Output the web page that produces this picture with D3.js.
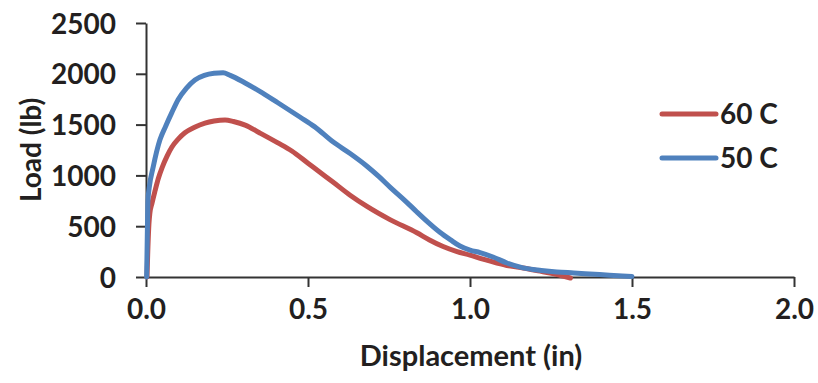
<!DOCTYPE html>
<html>
<head>
<meta charset="utf-8">
<script src="https://cdn.jsdelivr.net/npm/d3@7"></script>
<style>
	body { margin: 0; background: #fff; }
	svg text { font-family: Lato, "Open Sans", sans-serif; font-weight: bold; fill: #231f20; }
</style>
</head>
<body>
<svg width="818" height="383"></svg>
<script>

// data........................................................................

var seriesNames = ["60 C", "50 C"],
	seriesColors = ["#c0504d", "#4f81bd"];

var load60 = [
	[0.003, 0], [0.006, 300], [0.009, 520], [0.012, 630], [0.018, 720],
	[0.028, 850], [0.038, 970], [0.05, 1080], [0.065, 1190], [0.08, 1280],
	[0.1, 1360], [0.12, 1420], [0.15, 1475], [0.182, 1515], [0.21, 1535],
	[0.244, 1545], [0.27, 1530], [0.306, 1495], [0.35, 1420], [0.407, 1320],
	[0.45, 1240], [0.5, 1120], [0.55, 1000], [0.577, 935], [0.63, 805],
	[0.682, 695], [0.753, 565], [0.836, 435], [0.875, 365], [0.917, 300],
	[0.96, 250], [1.0, 215], [1.04, 175], [1.083, 138], [1.12, 110],
	[1.164, 88], [1.21, 60], [1.247, 40], [1.28, 15], [1.31, -10]
];

var load50 = [
	[0.002, 0], [0.004, 400], [0.006, 750], [0.01, 880], [0.022, 1080],
	[0.043, 1350], [0.06, 1480], [0.08, 1620], [0.099, 1745], [0.125, 1860],
	[0.151, 1940], [0.18, 1985], [0.21, 2005], [0.238, 2010], [0.26, 1985],
	[0.306, 1910], [0.35, 1830], [0.407, 1715], [0.475, 1575], [0.52, 1480],
	[0.577, 1330], [0.63, 1215], [0.682, 1090], [0.72, 985], [0.753, 885],
	[0.8, 750], [0.836, 640], [0.87, 540], [0.907, 440], [0.94, 365],
	[0.969, 305], [1.0, 265], [1.031, 240], [1.071, 197], [1.114, 138],
	[1.164, 90], [1.22, 65], [1.268, 50], [1.32, 40], [1.37, 30],
	[1.43, 18], [1.47, 10], [1.5, 5]
];

var xTicks = [0, 0.5, 1.0, 1.5, 2.0],
	yTicks = [0, 500, 1000, 1500, 2000, 2500];

// scales and axes.............................................................

var svg = d3.select("svg"),
	x = d3.scaleLinear().domain([0, 2]).range([146, 794]),
	y = d3.scaleLinear().domain([0, 2500]).range([277, 23]);

var line = d3.line()
	.x(function(d) { return x(d[0]); })
	.y(function(d) { return y(d[1]); })
	.curve(d3.curveMonotoneX);

var xAxis = svg.append("g")
	.attr("transform", "translate(0," + y(0) + ")")
	.call(d3.axisBottom(x).tickValues(xTicks).tickFormat(d3.format(".1f"))
		.tickSizeInner(10).tickSizeOuter(0).tickPadding(12));

var yAxis = svg.append("g")
	.attr("transform", "translate(" + x(0) + ",0)")
	.call(d3.axisLeft(y).tickValues(yTicks).tickFormat(d3.format("d"))
		.tickSizeInner(10).tickSizeOuter(0).tickPadding(20));

[xAxis, yAxis].forEach(function(a){
	a.select(".domain").attr("stroke", "#333").attr("stroke-width", 2);
	a.selectAll(".tick line").attr("stroke", "#333").attr("stroke-width", 2);
	a.selectAll(".tick text").attr("font-size", 28).attr("fill", "#231f20");
});
yAxis.selectAll(".tick text").attr("dy", "0.36em");

// axis titles
svg.append("text")
	.attr("x", 471)
	.attr("y", 366)
	.attr("text-anchor", "middle")
	.attr("font-size", 29)
	.text("Displacement (in)");

svg.append("text")
	.attr("transform", "translate(41,150) rotate(-90)")
	.attr("text-anchor", "middle")
	.attr("font-size", 28)
	.text("Load (lb)");

// series......................................................................

svg.append("g")
	.selectAll("path")
	.data([load60, load50])
	.enter().append("path")
		.attr("d", line)
		.attr("fill", "none")
		.attr("stroke", function(d, i) { return seriesColors[i]; })
		.attr("stroke-width", 5)
		.attr("stroke-linejoin", "round")
		.attr("stroke-linecap", "round");

// legend......................................................................

var legend = svg.append("g")
	.selectAll("g")
	.data(seriesNames)
	.enter().append("g")
		.attr("transform", function(d, i) { return "translate(662," + (114 + i * 44) + ")"; });

legend.append("line")
	.attr("x1", 0).attr("x2", 54)
	.attr("stroke", function(d, i) { return seriesColors[i]; })
	.attr("stroke-width", 5)
	.attr("stroke-linecap", "round");

legend.append("text")
	.attr("x", 58)
	.attr("dy", "0.36em")
	.attr("font-size", 28)
	.text(function(d) { return d; });

</script>
</body>
</html>
